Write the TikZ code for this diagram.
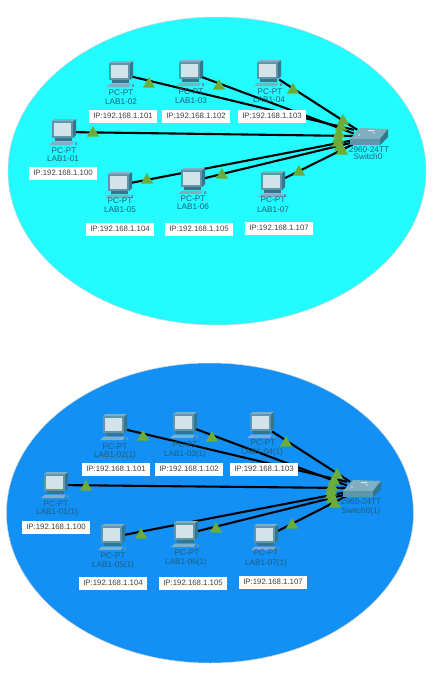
\documentclass[tikz,border=0pt]{standalone}
\usepackage{fontspec}
\setmainfont{Liberation Sans}
\usetikzlibrary{positioning,shapes.geometric}
\definecolor{zonetop}{HTML}{22FBFF}
\definecolor{zonelow}{HTML}{1290F5}
\definecolor{linkgreen}{HTML}{6BAD38}
\definecolor{devtext}{HTML}{1F5F78}
\definecolor{iconside}{HTML}{34778C}
\definecolor{iconfront}{HTML}{5E97AB}
\definecolor{icontop}{HTML}{7FAFC0}
\definecolor{iconscreen}{HTML}{D3E3EA}
\tikzset{
	zone/.style={ellipse, draw=gray!35, line width=0.5pt, inner sep=0},
	pcbox/.style={inner sep=0, minimum width=20, minimum height=20},
	swbox/.style={inner sep=0, minimum width=28, minimum height=12},
	link/.style={line width=2.1pt, black},
	led/.style={regular polygon, regular polygon sides=3, fill=linkgreen, inner sep=0, minimum size=14},
	dev/.style={font=\fontsize{8.2}{9}\selectfont, text=devtext, inner sep=0},
	ip/.style={fill=white, text=black!75, font=\fontsize{7.8}{8}\selectfont, inner sep=0, minimum width=68, minimum height=13},
	pcicon/.pic={
		\fill[iconside] (9,-11) -- (12,-13) -- (12,3) -- (9,6) -- cycle;
		\fill[icontop] (-12,-11) -- (-9,-13) -- (12,-13) -- (9,-11) -- cycle;
		\fill[iconfront] (-12,-11) rectangle (9,6);
		\fill[iconscreen] (-10,-9) rectangle (7,3.5);
		\fill[iconside] (-9,6) rectangle (8,9);
		\fill[icontop] (-15,13) -- (-11,9.5) -- (10,9.5) -- (8,13) -- cycle;
		\fill[iconfront] (10.5,10) rectangle (13,12.5);
	},
	swicon/.pic={
		\fill[icontop] (-18,3) -- (-8,-8) -- (20,-7) -- (12,3) -- cycle;
		\fill[iconfront] (-18,3) -- (12,3) -- (12,9) -- (-18,9) -- cycle;
		\fill[iconside] (12,3) -- (20,-7) -- (20,1) -- (12,9) -- cycle;
		\fill[white!80!gray] (-9,-1) circle (0.9) (6,-3) circle (0.9) (0,-6) rectangle (6,-5);
	},
}

\begin{document}
\begin{tikzpicture}[x=1pt, y=-1pt]
	\useasboundingbox (0,0) rectangle (432,678);

	% upper network
	\begin{scope}
		\node[zone, fill=zonetop, minimum width=418, minimum height=308] (zonea) at (217,171) {};

		\node[pcbox] (a01) at (64,132) {};
		\node[pcbox] (a02) at (121,74) {};
		\node[pcbox] (a03) at (191,73) {};
		\node[pcbox] (a04) at (269,73) {};
		\node[pcbox] (a05) at (120,185) {};
		\node[pcbox] (a06) at (193,181) {};
		\node[pcbox] (a07) at (273,184) {};
		\node[swbox] (asw) at (368,136) {};

		\draw [link] (a01) -- (asw.180);
		\draw [link] (a02) -- (asw.north west);
		\draw [link] (a03) -- (asw.170);
		\draw [link] (a04) -- (asw.150);
		\draw [link] (a05) -- (asw.196);
		\draw [link] (a06) -- (asw.south west);
		\draw [link] (a07) -- (asw.210);

		\pic at (a01) {pcicon};
		\pic at (a02) {pcicon};
		\pic at (a03) {pcicon};
		\pic at (a04) {pcicon};
		\pic at (a05) {pcicon};
		\pic at (a06) {pcicon};
		\pic at (a07) {pcicon};
		\pic at (asw) {swicon};

		\node[led] (al01) at (93,133) {};
		\node[led] (al02) at (149,84) {};
		\node[led] (al03) at (219,86) {};
		\node[led] (al04) at (293,90) {};
		\node[led] (al05) at (147,180) {};
		\node[led] (al06) at (222,175) {};
		\node[led] (al07) at (299,172) {};
		\node[led] (as01) at (343,121) {};
		\node[led] (as02) at (341,127) {};
		\node[led] (as03) at (339,134) {};
		\node[led] (as04) at (338,139) {};
		\node[led] (as05) at (338,143) {};
		\node[led] (as06) at (340,147) {};
		\node[led] (as07) at (342,151) {};

		\node[dev] (apc01) at (64,151) {PC-PT};
		\node[dev] (an01)  at (63,159) {LAB1-01};
		\node[dev] (apc02) at (121,93) {PC-PT};
		\node[dev] (an02)  at (121,102) {LAB1-02};
		\node[dev] (apc03) at (191,92) {PC-PT};
		\node[dev] (an03)  at (191,101) {LAB1-03};
		\node[dev] (apc04) at (270,92) {PC-PT};
		\node[dev] (an04)  at (269,100) {LAB1-04};
		\node[dev] (apc05) at (120,201) {PC-PT};
		\node[dev] (an05)  at (120,210) {LAB1-05};
		\node[dev] (apc06) at (193,199) {PC-PT};
		\node[dev] (an06)  at (193,207) {LAB1-06};
		\node[dev] (apc07) at (273,200) {PC-PT};
		\node[dev] (an07)  at (273,210) {LAB1-07};
		\node[dev] (asn1)  at (369,150) {2960-24TT};
		\node[dev] (asn2)  at (368,157) {Switch0};

		\node[ip] (aip01) at (63,173) {IP:192.168.1.100};
		\node[ip] (aip02) at (123,116) {IP:192.168.1.101};
		\node[ip] (aip03) at (196,116) {IP:192.168.1.102};
		\node[ip] (aip04) at (272,116) {IP:192.168.1.103};
		\node[ip] (aip05) at (120,229) {IP:192.168.1.104};
		\node[ip] (aip06) at (199,229) {IP:192.168.1.105};
		\node[ip] (aip07) at (279,228) {IP:192.168.1.107};
	\end{scope}

	% lower network
	\begin{scope}
		\node[zone, fill=zonelow, minimum width=407, minimum height=300] (zoneb) at (210,513) {};

		\node[pcbox] (b01) at (56,485) {};
		\node[pcbox] (b02) at (115,427) {};
		\node[pcbox] (b03) at (185,425) {};
		\node[pcbox] (b04) at (262,425) {};
		\node[pcbox] (b05) at (113,537) {};
		\node[pcbox] (b06) at (186,534) {};
		\node[pcbox] (b07) at (266,537) {};
		\node[swbox] (bsw) at (361,488) {};

		\draw [link] (b01) -- (bsw.180);
		\draw [link] (b02) -- (bsw.north west);
		\draw [link] (b03) -- (bsw.170);
		\draw [link] (b04) -- (bsw.150);
		\draw [link] (b05) -- (bsw.196);
		\draw [link] (b06) -- (bsw.south west);
		\draw [link] (b07) -- (bsw.210);

		\pic at (b01) {pcicon};
		\pic at (b02) {pcicon};
		\pic at (b03) {pcicon};
		\pic at (b04) {pcicon};
		\pic at (b05) {pcicon};
		\pic at (b06) {pcicon};
		\pic at (b07) {pcicon};
		\pic at (bsw) {swicon};

		\node[led] (bl01) at (86,487) {};
		\node[led] (bl02) at (143,437) {};
		\node[led] (bl03) at (212,438) {};
		\node[led] (bl04) at (286,443) {};
		\node[led] (bl05) at (141,535) {};
		\node[led] (bl06) at (216,529) {};
		\node[led] (bl07) at (292,525) {};
		\node[led] (bs01) at (337,475) {};
		\node[led] (bs02) at (334,481) {};
		\node[led] (bs03) at (332,487) {};
		\node[led] (bs04) at (331,491) {};
		\node[led] (bs05) at (331,495) {};
		\node[led] (bs06) at (332,499) {};
		\node[led] (bs07) at (335,504) {};

		\node[dev] (bpc01) at (56,504) {PC-PT};
		\node[dev] (bn01)  at (57,512.5) {LAB1-01(1)};
		\node[dev] (bpc02) at (115,447) {PC-PT};
		\node[dev] (bn02)  at (115,455.5) {LAB1-02(1)};
		\node[dev] (bpc03) at (185,445) {PC-PT};
		\node[dev] (bn03)  at (185,454) {LAB1-03(1)};
		\node[dev] (bpc04) at (263,443) {PC-PT};
		\node[dev] (bn04)  at (262,452) {LAB1-04(1)};
		\node[dev] (bpc05) at (113,556) {PC-PT};
		\node[dev] (bn05)  at (113,565) {LAB1-05(1)};
		\node[dev] (bpc06) at (187,553) {PC-PT};
		\node[dev] (bn06)  at (186,562) {LAB1-06(1)};
		\node[dev] (bpc07) at (266,553) {PC-PT};
		\node[dev] (bn07)  at (266,563) {LAB1-07(1)};
		\node[dev] (bsn1)  at (361,501.5) {2960-24TT};
		\node[dev] (bsn2)  at (361,511) {Switch0(1)};

		\node[ip] (bip01) at (56,527) {IP:192.168.1.100};
		\node[ip] (bip02) at (116,469) {IP:192.168.1.101};
		\node[ip] (bip03) at (189,469) {IP:192.168.1.102};
		\node[ip] (bip04) at (264,469) {IP:192.168.1.103};
		\node[ip] (bip05) at (113,583) {IP:192.168.1.104};
		\node[ip] (bip06) at (193,583) {IP:192.168.1.105};
		\node[ip] (bip07) at (273,582) {IP:192.168.1.107};
	\end{scope}
\end{tikzpicture}
\end{document}
